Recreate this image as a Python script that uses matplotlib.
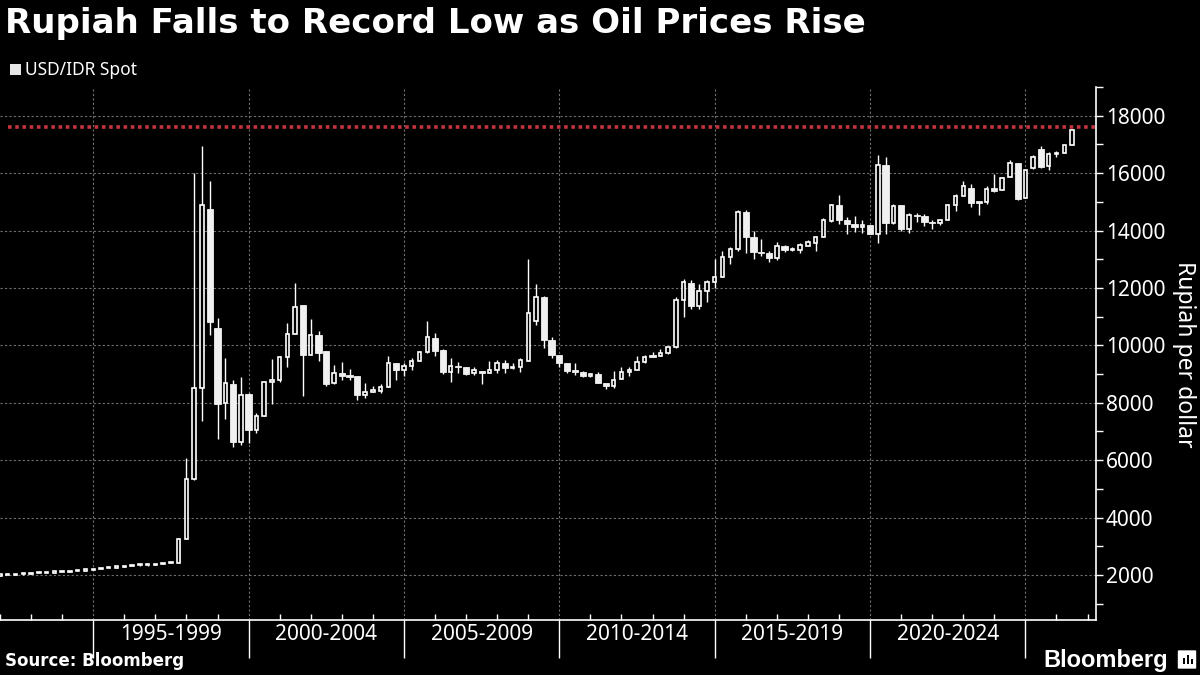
import pandas as pd
import matplotlib.pyplot as plt
from matplotlib.patches import Rectangle, FancyBboxPatch

# quarterly USD/IDR candles, 1991Q4 .. 2026Q2 (plotted at quarter end)
first_quarter = "1991Q4"
last_quarter = "2026Q2"

opens = [
    1975,
    1992, 2006, 2020, 2036,
    2062, 2071, 2081, 2096,
    2110, 2129, 2150, 2173,
    2200, 2235, 2259, 2283,
    2308, 2332, 2343, 2342,
    2383, 2419, 2432, 3250,
    5330, 8510, 14750, 10610,
    7990, 8670, 6650, 8320,
    7045, 7550, 8725, 8780,
    9600, 10400, 11400, 9660,
    10370, 9800, 8680, 9020,
    8960, 8930, 8270, 8390,
    8420, 8560, 9400, 9140,
    9270, 9465, 9755, 10270,
    9830, 9070, 9265, 9235,
    9020, 9120, 9050, 9140,
    9400, 9217, 9230, 9470,
    10850, 11700, 10190, 9650,
    9400, 9105, 9080, 8925,
    8990, 8690, 8580, 8820,
    9070, 9145, 9430, 9660,
    9640, 9730, 9930, 11590,
    12180, 11360, 11880, 12190,
    12390, 13090, 13350, 14660,
    13790, 13260, 13210, 13040,
    13470, 13320, 13330, 13470,
    13560, 13790, 14330, 14900,
    14380, 14240, 14130, 14200,
    13880, 16300, 14270, 14880,
    14050, 14525, 14500, 14310,
    14255, 14365, 14880, 15215,
    15470, 14980, 14980, 15470,
    15400, 15860, 16350, 15145,
    16175, 16853, 16233, 16660,
    16700, 16982,
]
highs = [
    2000,
    2012, 2026, 2042, 2068,
    2076, 2086, 2101, 2116,
    2135, 2156, 2179, 2206,
    2241, 2265, 2289, 2314,
    2338, 2349, 2352, 2389,
    2425, 2440, 3300, 6090,
    16000, 16950, 15730, 10960,
    9575, 8800, 8900, 8330,
    7630, 8760, 9530, 9640,
    10780, 12180, 11420, 10920,
    10500, 9810, 9300, 9430,
    9160, 8940, 8700, 8600,
    8660, 9620, 9400, 9400,
    9550, 9790, 10860, 10440,
    9860, 9570, 9430, 9240,
    9245, 9120, 9465, 9480,
    9490, 9395, 9560, 13000,
    12150, 11720, 10300, 9680,
    9400, 9395, 9100, 9020,
    9070, 8700, 9100, 9255,
    9250, 9630, 9660, 9765,
    9880, 9950, 11700, 12300,
    12270, 12120, 12270, 13000,
    13290, 13410, 14720, 14720,
    13990, 13720, 13290, 13615,
    13490, 13430, 13560, 13660,
    13815, 14420, 14930, 15250,
    14480, 14490, 14360, 14200,
    16620, 16550, 14910, 14890,
    14600, 14600, 14570, 14380,
    14400, 14910, 15260, 15740,
    15610, 14990, 15555, 15964,
    15860, 16456, 16360, 16116,
    16620, 16935, 16725, 16760,
    16975, 17510,
]
lows = [
    1970,
    1987, 2001, 2015, 2031,
    2057, 2066, 2076, 2091,
    2105, 2124, 2145, 2168,
    2195, 2230, 2254, 2278,
    2303, 2327, 2330, 2337,
    2378, 2414, 2420, 3250,
    5300, 7370, 10370, 6730,
    7430, 6460, 6530, 6610,
    6930, 7535, 7960, 8740,
    9260, 10380, 8220, 9650,
    9450, 8600, 8640, 8790,
    8790, 8090, 8150, 8380,
    8325, 8550, 8790, 8930,
    9140, 9450, 9730, 9630,
    8990, 8720, 9020, 8970,
    8980, 8640, 9050, 9050,
    9050, 9160, 9070, 9450,
    10710, 9920, 9570, 9245,
    9050, 8965, 8900, 8900,
    8680, 8490, 8500, 8820,
    8920, 9140, 9380, 9590,
    9630, 9710, 9920, 11000,
    11260, 11270, 11510, 12000,
    12390, 12825, 13290, 13230,
    13000, 13120, 12920, 12970,
    13255, 13290, 13200, 13460,
    13290, 13760, 14300, 14215,
    13880, 13940, 13915, 13870,
    13570, 13880, 14240, 13980,
    13900, 14280, 14150, 14040,
    14190, 14360, 14670, 15200,
    14830, 14540, 14935, 15330,
    15400, 15850, 15050, 15140,
    16150, 16175, 16093, 16550,
    16695, 16980,
]
closes = [
    1992,
    2006, 2020, 2036, 2062,
    2071, 2081, 2096, 2110,
    2129, 2150, 2173, 2200,
    2235, 2259, 2283, 2308,
    2332, 2343, 2346, 2383,
    2419, 2432, 3250, 5330,
    8510, 14900, 10810, 7955,
    8690, 6650, 8270, 7035,
    7550, 8725, 8780, 9600,
    10400, 11350, 9660, 10370,
    9750, 8660, 9020, 8930,
    8895, 8267, 8383, 8440,
    8560, 9400, 9140, 9270,
    9465, 9755, 10300, 9790,
    9070, 9265, 9235, 9000,
    9150, 9050, 9150, 9400,
    9215, 9230, 9500, 11140,
    11700, 10190, 9650, 9400,
    9105, 9080, 8930, 9010,
    8690, 8580, 8790, 9080,
    9145, 9430, 9590, 9600,
    9730, 9930, 11590, 12190,
    11360, 11880, 12190, 12390,
    13090, 13350, 14660, 13790,
    13260, 13210, 13040, 13470,
    13320, 13330, 13480, 13590,
    13790, 14360, 14900, 14380,
    14240, 14130, 14200, 13880,
    16300, 14270, 14850, 14050,
    14525, 14500, 14300, 14253,
    14365, 14880, 15220, 15560,
    14970, 14970, 15440, 15360,
    15835, 16350, 15100, 16093,
    16560, 16200, 16666, 16690,
    16970, 17509,
]

record_low = 17615
period_labels = ["1995-1999", "2000-2004", "2005-2009", "2010-2014",
                 "2015-2019", "2020-2024"]

quarters = pd.period_range(first_quarter, last_quarter, freq="Q")
df = pd.DataFrame({"open": opens, "high": highs, "low": lows, "close": closes})
df["t"] = [p.year + p.quarter / 4 for p in quarters]
up = df[df.close >= df.open]
down = df[df.close < df.open]

FONT = ["Noto Sans", "DejaVu Sans"]
BOLD = ["DejaVu Sans"]
plt.rcParams["font.family"] = FONT

fig = plt.figure(figsize=(12, 6.75), dpi=100, facecolor="black")
ax = fig.add_axes([0, 0.0815, 0.9133, 0.7896], facecolor="black")

# wicks, then bodies on top (tiny bodies get a minimum drawn height, like the original)
min_body = 45
ax.vlines(df.t, df.low, df.high, colors="white", linewidth=1, zorder=3)
up_h = (up.close - up.open).clip(lower=min_body)
ax.bar(up.t, up_h, bottom=up.open, width=0.11,
       facecolor="black", edgecolor="white", linewidth=1.2, zorder=4)
dn_h = (down.open - down.close).clip(lower=min_body)
ax.bar(down.t, dn_h, bottom=down.close, width=0.2,
       facecolor="#f0f0f0", edgecolor="#f0f0f0", linewidth=0.6, zorder=4)

ax.hlines(record_low, 1992.27, 2027.27, colors="#c23540",
          linestyles=(0, (1, 1)), linewidth=2.6, zorder=2)

ax.set_xlim(1992.0, 2027.27)
ax.set_ylim(432, 19000)

ax.set_xticks(range(1995, 2026, 5), labels=[""] * 7)
ax.set_xticks(range(1992, 2028), minor=True)
ax.tick_params(axis="x", which="major", direction="out", length=27,
               width=1, color="white")
ax.tick_params(axis="x", which="minor", direction="in", length=4,
               width=1, color="white")
for i, lab in enumerate(period_labels):
    ax.text(1997.5 + 5 * i, -0.027, lab, transform=ax.get_xaxis_transform(),
            ha="center", va="center", color="white", fontsize=15)

ax.yaxis.tick_right()
ax.set_yticks(range(2000, 18001, 2000))
ax.set_yticks(range(1000, 19001, 2000), minor=True)
ax.tick_params(axis="y", which="both", direction="out", length=5, width=1,
               color="white", labelcolor="white", labelsize=15, pad=2)

ax.grid(which="major", color="#707070", linestyle=(0, (2, 2)), linewidth=0.8)
for side in ["top", "left"]:
    ax.spines[side].set_visible(False)
for side in ["bottom", "right"]:
    ax.spines[side].set_color("white")
    ax.spines[side].set_linewidth(1.2)

fig.text(1184 / 1200, 1 - 354 / 675, "Rupiah per dollar", rotation=270,
         ha="center", va="center", color="white", fontsize=16.5)

# title, legend, footer
fig.text(0.004, 1 - 24 / 675, "Rupiah Falls to Record Low as Oil Prices Rise",
         ha="left", va="center", color="white", fontsize=24.5, fontweight="bold",
         family=BOLD)
fig.patches.append(Rectangle((10 / 1200, 1 - 75 / 675), 11 / 1200, 11 / 675,
                             transform=fig.transFigure, facecolor="#e6e6e6",
                             edgecolor="none"))
fig.text(25 / 1200, 1 - 70 / 675, "USD/IDR Spot", ha="left", va="center",
         color="white", fontsize=12.5)
fig.text(5 / 1200, 1 - 661 / 675, "Source: Bloomberg", ha="left", va="center",
         color="white", fontsize=12, fontweight="bold", family=BOLD)
fig.text(1168 / 1200, 1 - 660 / 675, "Bloomberg", ha="right", va="center",
         color="white", fontsize=17, fontweight="bold",
         family=["Liberation Sans", "DejaVu Sans"])
fig.patches.append(FancyBboxPatch((1179 / 1200, 1 - 668 / 675), 16 / 1200, 17 / 675,
                                  boxstyle="round,pad=0.001",
                                  transform=fig.transFigure,
                                  facecolor="white", edgecolor="none"))
for dx, h in [(4, 6), (8, 9), (12, 5)]:
    fig.patches.append(Rectangle(((1179 + dx) / 1200, 1 - 664 / 675), 2 / 1200, h / 675,
                                 transform=fig.transFigure, facecolor="black",
                                 edgecolor="none"))

fig.savefig("out.png", dpi=100, facecolor="black")
